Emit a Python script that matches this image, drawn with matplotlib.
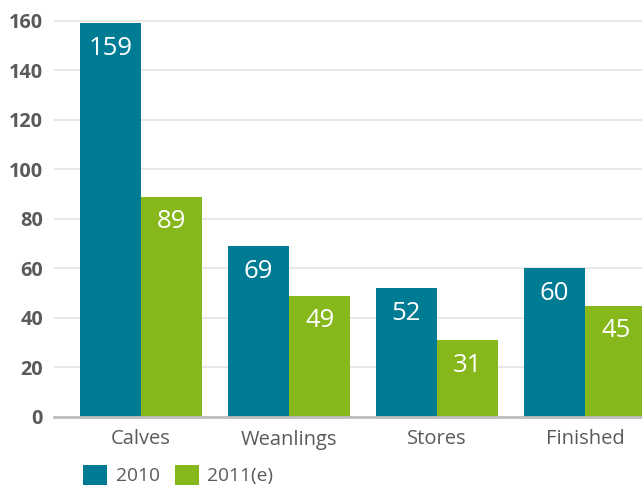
import matplotlib.pyplot as plt
import numpy as np

plt.rcParams['font.family'] = ['Open Sans', 'DejaVu Sans']

categories = ["Calves", "Weanlings", "Stores", "Finished"]
vals_2010 = [159, 69, 52, 60]
vals_2011 = [89, 49, 31, 45]
series_names = ["2010", "2011(e)"]
yticks = [0, 20, 40, 60, 80, 100, 120, 140, 160]

TEAL = "#007b94"
GREEN = "#86b81b"
GREY = "#5a5a5a"

fig = plt.figure(figsize=(6.42, 4.87), dpi=100)
ax = fig.add_axes([54 / 642, 1 - 417 / 487, 1 - 54 / 642, 401 / 487])

x = np.arange(len(categories))
w = 0.415
b1 = ax.bar(x - w / 2, vals_2010, w, color=TEAL, label=series_names[0], zorder=2)
b2 = ax.bar(x + w / 2, vals_2011, w, color=GREEN, label=series_names[1], zorder=2)

for bars in (b1, b2):
    for rect in bars:
        h = rect.get_height()
        ax.annotate(f"{h:g}", (rect.get_x() + rect.get_width() / 2, h),
                    xytext=(0, -18), textcoords="offset points",
                    ha="center", va="center", color="white", fontsize=18.5, zorder=3)

ax.set_xlim(-0.588, 3.385)
ax.set_ylim(0, 162)
ax.set_yticks(yticks)
ax.set_yticklabels([str(t) for t in yticks], fontsize=14.3, fontweight="bold", color=GREY)
ax.set_xticks(x)
ax.set_xticklabels(categories, fontsize=14.5, color=GREY)
ax.tick_params(axis="y", length=0, pad=8)
ax.tick_params(axis="x", length=0, pad=9)
ax.yaxis.grid(True, color="#e3e3e3", linewidth=1.2, zorder=0)
ax.set_axisbelow(True)
for s in ["top", "right", "left"]:
    ax.spines[s].set_visible(False)
ax.spines["bottom"].set_color("#bdbdbd")
ax.spines["bottom"].set_linewidth(2)
ax.spines["bottom"].set_zorder(3)

fig.legend(handles=[b1, b2], loc="center left", bbox_to_anchor=(83 / 642, 12 / 487),
           ncol=2, frameon=False, fontsize=13.8, handlelength=1.25, handleheight=1.25,
           handletextpad=0.45, columnspacing=0.8, borderpad=0, borderaxespad=0,
           labelcolor=GREY)

fig.savefig("out.png", dpi=100)
